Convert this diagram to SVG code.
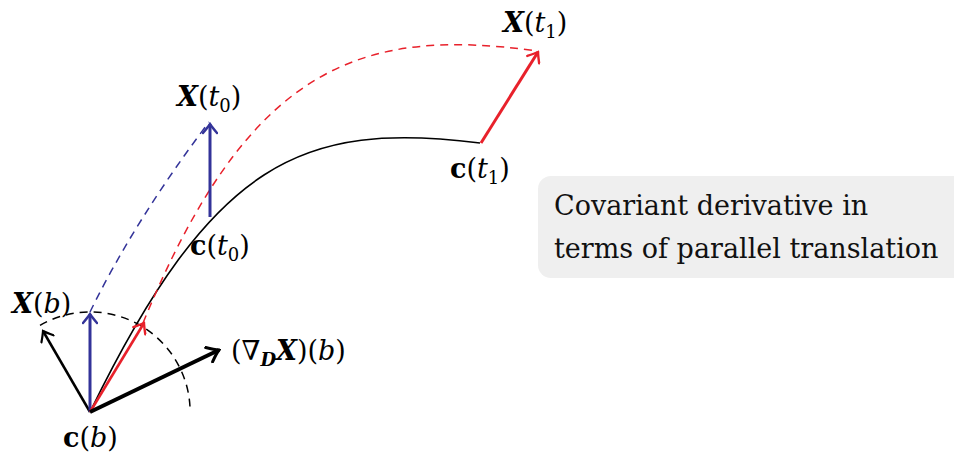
<svg xmlns="http://www.w3.org/2000/svg" width="954" height="457" viewBox="0 0 954 457">
<style>
.lbl{font-family:"DejaVu Serif","Liberation Serif",serif;font-size:27px;fill:#000}
.bi{font-weight:bold;font-style:italic}
.b{font-weight:bold}
.i{font-style:italic}
.sub{font-size:18px}
.note{font-family:"DejaVu Serif","Liberation Serif",serif;font-size:27px;fill:#111}
.dash{fill:none;stroke-width:1.5;stroke-dasharray:8 6}
</style>
<defs>
<marker id="hk" viewBox="-12 -8 14 16" markerWidth="14" markerHeight="16" refX="0" refY="0" orient="auto" markerUnits="userSpaceOnUse">
<path d="M-9,-7 Q-3,-2 0,0 Q-3,2 -9,7" fill="none" stroke="#000" stroke-width="2.2" stroke-linecap="round"/>
</marker>
<marker id="hkb" viewBox="-14 -9 16 18" markerWidth="16" markerHeight="18" refX="0" refY="0" orient="auto" markerUnits="userSpaceOnUse">
<path d="M-11,-8 Q-4,-2 0,0 Q-4,2 -11,8" fill="none" stroke="#000" stroke-width="3" stroke-linecap="round"/>
</marker>
<marker id="hb" viewBox="-12 -8 14 16" markerWidth="14" markerHeight="16" refX="0" refY="0" orient="auto" markerUnits="userSpaceOnUse">
<path d="M-9,-7 Q-3,-2 0,0 Q-3,2 -9,7" fill="none" stroke="#333399" stroke-width="2.4" stroke-linecap="round"/>
</marker>
<marker id="hr" viewBox="-12 -8 14 16" markerWidth="14" markerHeight="16" refX="0" refY="0" orient="auto" markerUnits="userSpaceOnUse">
<path d="M-9,-7 Q-3,-2 0,0 Q-3,2 -9,7" fill="none" stroke="#e8212b" stroke-width="2.4" stroke-linecap="round"/>
</marker>
</defs>
<rect width="954" height="457" fill="#fff"/>

<g id="note">
<rect x="538" y="176" width="440" height="102" rx="13" fill="#efefef"/>
<text class="note" x="554" y="215">Covariant derivative in</text>
<text class="note" x="554" y="258">terms of parallel translation</text>
</g>

<g id="connectors">
<path id="curve-c" d="M90,412 C213,160 302,121 480,143" fill="none" stroke="#000" stroke-width="1.6"/>
<path id="arc" class="dash" d="M40,325.4 A100,100 0 0 1 190,407" stroke="#000"/>
<path id="blue-dash" class="dash" d="M90,312 Q135,220 209,122" stroke="#333399"/>
<path id="red-dash" class="dash" d="M143,323 C248,67 359,26 537,51" stroke="#e8212b"/>
<line x1="90" y1="412" x2="43" y2="331" stroke="#000" stroke-width="2.5" marker-end="url(#hk)"/>
<line x1="90" y1="412" x2="90" y2="314" stroke="#333399" stroke-width="3" marker-end="url(#hb)"/>
<line x1="90" y1="412" x2="144" y2="323" stroke="#e8212b" stroke-width="2.6" marker-end="url(#hr)"/>
<line x1="90" y1="412" x2="219" y2="350" stroke="#000" stroke-width="4" marker-end="url(#hkb)"/>
<line x1="210" y1="217" x2="210" y2="124" stroke="#333399" stroke-width="3" marker-end="url(#hb)"/>
<line x1="481" y1="143" x2="538" y2="52" stroke="#e8212b" stroke-width="3" marker-end="url(#hr)"/>
</g>

<g id="label-Xt1"><text class="lbl" x="503" y="32"><tspan class="bi">X</tspan>(<tspan class="i">t</tspan><tspan class="sub" dy="6">1</tspan><tspan dy="-6">)</tspan></text></g>
<g id="label-ct1"><text class="lbl" x="450" y="178"><tspan class="b">c</tspan>(<tspan class="i">t</tspan><tspan class="sub" dy="6">1</tspan><tspan dy="-6">)</tspan></text></g>
<g id="label-Xt0"><text class="lbl" x="177" y="106"><tspan class="bi">X</tspan>(<tspan class="i">t</tspan><tspan class="sub" dy="6">0</tspan><tspan dy="-6">)</tspan></text></g>
<g id="label-ct0"><text class="lbl" x="190" y="255"><tspan class="b">c</tspan>(<tspan class="i">t</tspan><tspan class="sub" dy="6">0</tspan><tspan dy="-6">)</tspan></text></g>
<g id="label-Xb"><text class="lbl" x="12" y="313"><tspan class="bi">X</tspan>(<tspan class="i">b</tspan>)</text></g>
<g id="label-nabla"><text class="lbl" x="231" y="360">(∇<tspan class="sub bi" dy="6">D</tspan><tspan class="bi" dy="-6">X</tspan>)(<tspan class="i">b</tspan>)</text></g>
<g id="label-cb"><text class="lbl" x="63" y="447"><tspan class="b">c</tspan>(<tspan class="i">b</tspan>)</text></g>
</svg>
